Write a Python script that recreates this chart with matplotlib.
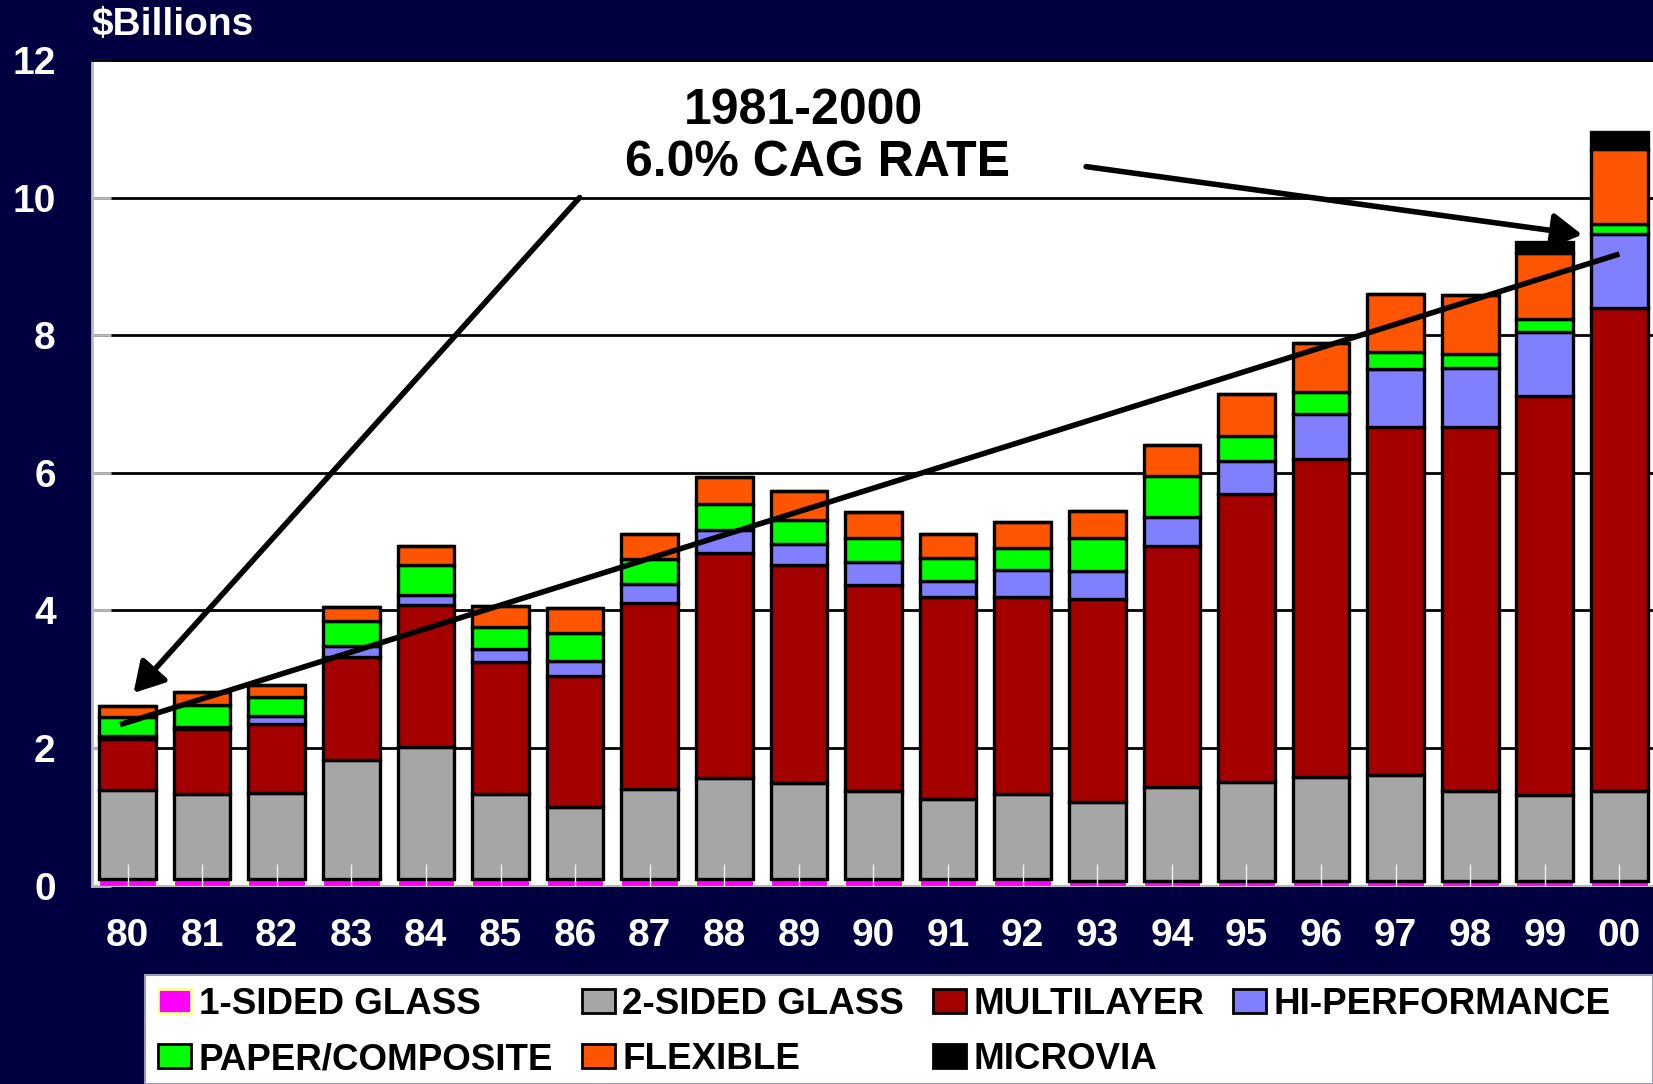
import numpy as np
import matplotlib
matplotlib.use('Agg')
import matplotlib.pyplot as plt
from matplotlib.patches import Rectangle, Patch, FancyArrowPatch

plt.rcParams['font.family'] = ['Liberation Sans', 'DejaVu Sans']
plt.rcParams['font.weight'] = 'bold'

NAVY = '#000040'

years = ['80', '81', '82', '83', '84', '85', '86', '87', '88', '89', '90',
         '91', '92', '93', '94', '95', '96', '97', '98', '99', '00']

# segment values, $ billions
one_sided = [0.10, 0.10, 0.10, 0.10, 0.10, 0.10, 0.10, 0.10, 0.10, 0.10, 0.10,
             0.10, 0.10, 0.06, 0.06, 0.06, 0.06, 0.06, 0.06, 0.06, 0.06]
two_sided = [1.29, 1.23, 1.25, 1.73, 1.91, 1.23, 1.04, 1.31, 1.47, 1.39, 1.27,
             1.16, 1.23, 1.15, 1.38, 1.44, 1.52, 1.55, 1.32, 1.26, 1.32]
multilayer = [0.74, 0.94, 1.00, 1.50, 2.07, 1.92, 1.91, 2.70, 3.26, 3.17, 3.00,
              2.93, 2.87, 2.96, 3.49, 4.19, 4.62, 5.06, 5.28, 5.79, 7.02]
hi_perf = [0.04, 0.03, 0.11, 0.15, 0.14, 0.19, 0.22, 0.28, 0.34, 0.31, 0.34,
           0.24, 0.39, 0.40, 0.43, 0.48, 0.66, 0.84, 0.86, 0.94, 1.07]
paper = [0.28, 0.33, 0.28, 0.37, 0.44, 0.32, 0.40, 0.35, 0.37, 0.35, 0.34,
         0.33, 0.32, 0.48, 0.59, 0.37, 0.32, 0.25, 0.20, 0.18, 0.15]
flexible = [0.16, 0.19, 0.18, 0.20, 0.28, 0.31, 0.37, 0.37, 0.40, 0.42, 0.38,
            0.35, 0.38, 0.40, 0.46, 0.60, 0.71, 0.84, 0.86, 0.96, 1.09]
microvia = [0, 0, 0, 0, 0, 0, 0, 0, 0, 0, 0,
            0, 0, 0, 0, 0, 0, 0, 0, 0.16, 0.25]

series = [
    ('1-SIDED GLASS', one_sided, '#FF00FF'),
    ('2-SIDED GLASS', two_sided, '#A6A6A6'),
    ('MULTILAYER', multilayer, '#A50000'),
    ('HI-PERFORMANCE', hi_perf, '#8080FF'),
    ('PAPER/COMPOSITE', paper, '#00FF00'),
    ('FLEXIBLE', flexible, '#FF5500'),
    ('MICROVIA', microvia, '#000000'),
]

fig = plt.figure(figsize=(16.53, 10.84), dpi=100)
fig.patch.set_facecolor(NAVY)
ax = fig.add_axes([0.0555, 0.183, 0.9445, 0.7617])
ax.set_facecolor('white')

x = np.arange(len(years))
bottom = np.zeros(len(years))
for name, vals, col in series:
    vals = np.array(vals, dtype=float)
    if name == '1-SIDED GLASS':
        ec, lw = '#FFFF99', 0.8
    else:
        ec, lw = 'black', 2.4
    ax.bar(x, vals, bottom=bottom, width=0.76, color=col, edgecolor=ec,
           linewidth=lw, zorder=3)
    bottom += vals

ax.set_xlim(-0.48, 20.45)
ax.set_ylim(0, 12)
ax.set_yticks(np.arange(0, 13, 2))
ax.set_xticks(x)
ax.set_xticklabels(years)
ax.grid(axis='y', color='black', linewidth=2, zorder=1)
ax.set_axisbelow(True)
ax.xaxis.set_zorder(4)   # white tick marks show over the bars

ax.tick_params(axis='y', direction='in', length=14, width=2, color='#BBBBBB',
               labelcolor='white', labelsize=28, pad=26)
ax.tick_params(axis='x', direction='in', length=16, width=1, color='#EEEEEE',
               labelcolor='white', labelsize=28, pad=23)
for lab in ax.get_xticklabels() + ax.get_yticklabels():
    lab.set_fontweight('bold')
ax.spines['right'].set_visible(False)
ax.spines['top'].set_color('black')
ax.spines['top'].set_linewidth(2)
ax.spines['left'].set_color('#BBBBBB')
ax.spines['left'].set_linewidth(2)
ax.spines['bottom'].set_color('#BBBBBB')
ax.spines['bottom'].set_linewidth(1.5)

# trend line and callout arrows
ax.plot([-0.1, 20.0], [2.34, 9.18], color='black', lw=4, zorder=6,
        solid_capstyle='butt')
for (x0, y0), (x1, y1) in [((6.06, 10.0), (0.08, 2.80)),
                           ((12.85, 10.45), (19.5, 9.46))]:
    ax.add_patch(FancyArrowPatch((x0, y0), (x1, y1),
                                 arrowstyle='-|>,head_length=0.6,head_width=0.35',
                                 mutation_scale=30, color='black', lw=4,
                                 zorder=6, shrinkA=0, shrinkB=0))

ax.text(9.06, 11.26, '1981-2000', ha='center', va='center', fontsize=36,
        fontweight='bold', color='black', zorder=7)
ax.text(9.25, 10.5, '6.0% CAG RATE', ha='center', va='center', fontsize=36,
        fontweight='bold', color='black', zorder=7)

fig.text(0.0555, 0.977, r'\$Billions', ha='left', va='center', fontsize=28,
         fontweight='bold', color='white')

# legend box
fig.patches.append(Rectangle((0.0877, 0.0), 0.9123, 0.1006,
                             transform=fig.transFigure, facecolor='white',
                             edgecolor='#9999BB', linewidth=1.5, zorder=0))
handles = {n: Patch(facecolor=c,
                    edgecolor=('#FFFF99' if n == '1-SIDED GLASS' else 'black'),
                    linewidth=2) for n, _, c in series}
order = ['1-SIDED GLASS', 'PAPER/COMPOSITE', '2-SIDED GLASS', 'FLEXIBLE',
         'MULTILAYER', 'MICROVIA', 'HI-PERFORMANCE']
leg = fig.legend([handles[n] for n in order], order, ncol=4, loc='center left',
                 bbox_to_anchor=(0.0956, 0.048), frameon=False, borderpad=0,
                 borderaxespad=0, handlelength=0.9, handleheight=0.6,
                 handletextpad=0.2, columnspacing=0.78, labelspacing=0.55,
                 prop={'weight': 'bold', 'size': 26.5})

fig.savefig('out.png', dpi=100, facecolor=NAVY)
